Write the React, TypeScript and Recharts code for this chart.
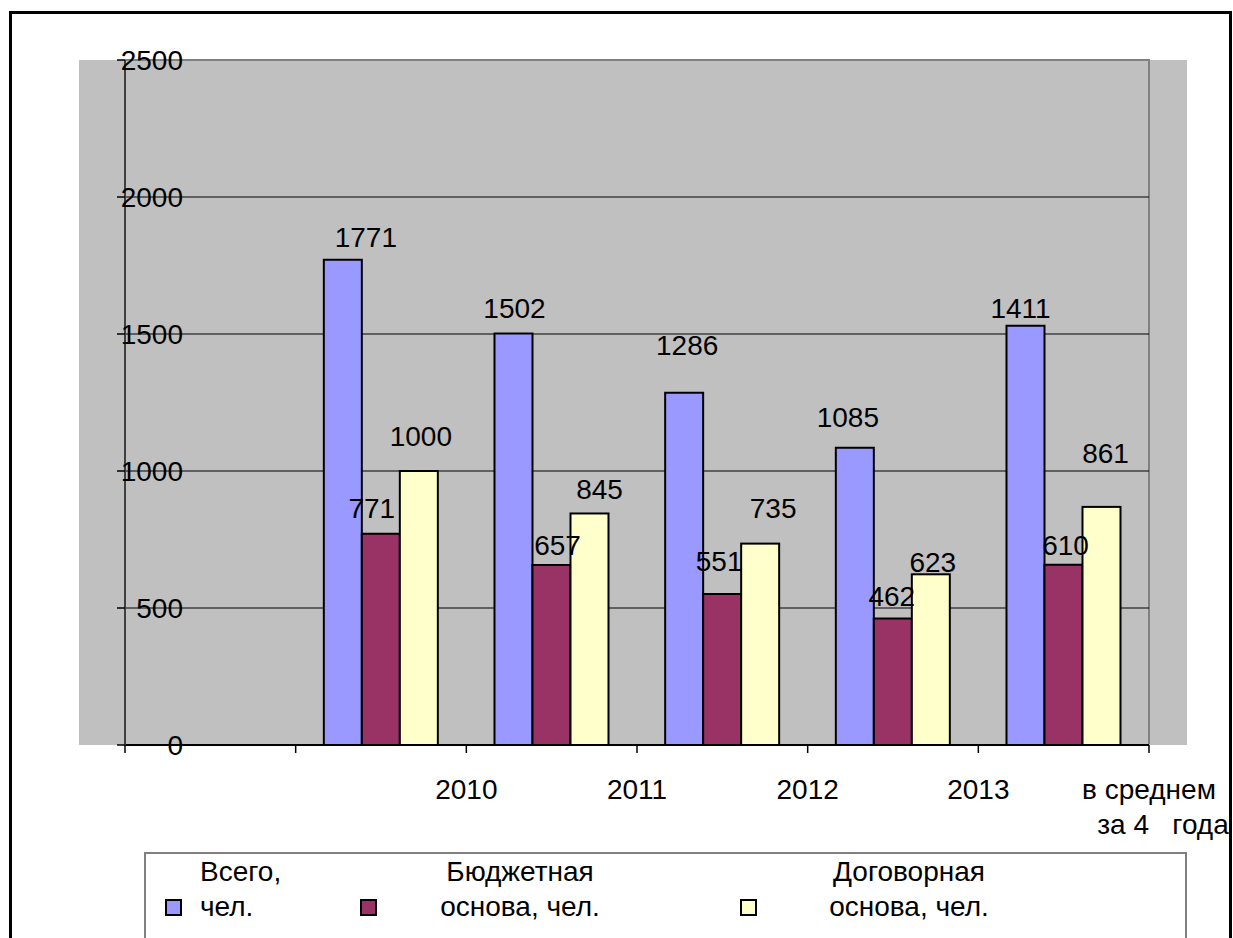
import { Bar, BarChart, CartesianGrid, XAxis, YAxis } from "recharts";

// categories: first slot is empty in the original Excel chart
const categories = ["", "2010", "2011", "2012", "2013", "в среднем\nза 4   года"];
// bar heights as drawn
const totalValues = [null, 1771, 1502, 1286, 1085, 1530];
const budgetValues = [null, 771, 657, 551, 462, 658];
const contractValues = [null, 1000, 845, 735, 623, 869];
// data label texts as printed on the chart
const totalLabels = ["", "1771", "1502", "1286", "1085", "1411"];
const budgetLabels = ["", "771", "657", "551", "462", "610"];
const contractLabels = ["", "1000", "845", "735", "623", "861"];
const yTicks = [0, 500, 1000, 1500, 2000, 2500];
const seriesLegend = [
  ["Всего,", "чел."],
  ["Бюджетная", "основа, чел."],
  ["Договорная", "основа, чел."],
];

const FONT = "'Liberation Sans', Arial, sans-serif";
const COLORS = ["#9999FF", "#993366", "#FFFFCC"];
const W = 1233;
const H = 938;
const PLOT = { left: 125, top: 60, right: 1149, bottom: 745 };
const BAND = (PLOT.right - PLOT.left) / categories.length;

// hand-placed label nudges [dx, lift above bar top] per series, like the original
const labelNudge = [
  [[0, 0], [23, 13], [1, 15], [3, 38], [-7, 21], [-5, 8]],
  [[0, 0], [-9, 16], [6, 10], [-3, 23], [-1, 12], [2, 10]],
  [[0, 0], [2, 25], [10, 14], [13, 26], [2, 2], [4, 44]],
];

const data = categories.map((cat, i) => ({
  cat,
  idx: i,
  total: totalValues[i],
  budget: budgetValues[i],
  contract: contractValues[i],
}));

function CategoryTick(props: any) {
  const { x, y, payload } = props;
  const half = BAND / 2;
  const isLast = payload.value === categories[categories.length - 1];
  const lines = String(payload.value).split("\n");
  return (
    <g>
      <line x1={x - half} x2={x - half} y1={y - 8} y2={y} stroke="#000" strokeWidth={1.5} />
      {isLast && <line x1={x + half} x2={x + half} y1={y - 8} y2={y} stroke="#000" strokeWidth={1.5} />}
      <text
        x={x + half}
        y={y + 46}
        textAnchor="middle"
        fontSize={28}
        fontFamily={FONT}
        fill="#000"
        style={{ whiteSpace: "pre" }}
      >
        {lines.map((l, k) => (
          <tspan key={k} x={x + half + (k ? 14 : 0)} dy={k ? 35 : 0}>
            {l}
          </tspan>
        ))}
      </text>
    </g>
  );
}

function ValueTick(props: any) {
  const { x, y, payload } = props;
  return (
    <text x={x + 66} y={y + 10} textAnchor="end" fontSize={28} fontFamily={FONT} fill="#000">
      {payload.value}
    </text>
  );
}

// last series draws its rect, then every label of the group so labels sit on top of neighbours
function ContractShape(props: any) {
  const { x, y, width, height, payload } = props;
  if (!payload || !payload.contract) return <g />;
  const bottom = y + height;
  const k = height / payload.contract;
  const i = payload.idx;
  const vals = [payload.total, payload.budget, payload.contract];
  const texts = [totalLabels[i], budgetLabels[i], contractLabels[i]];
  return (
    <g>
      <rect x={x} y={y} width={width} height={height} fill={COLORS[2]} stroke="#000" strokeWidth={2} />
      {vals.map((v, s) => {
        const [dx, lift] = labelNudge[s][i];
        const cx = x + (s - 2) * width + width / 2 + dx;
        const top = bottom - v * k;
        return (
          <text key={s} x={cx} y={top - lift} textAnchor="middle" fontSize={28} fontFamily={FONT} fill="#000">
            {texts[s]}
          </text>
        );
      })}
    </g>
  );
}

function LegendBox() {
  const markers = [166, 361, 741];
  const textX = [200, 520, 909];
  const anchors = ["start", "middle", "middle"];
  return (
    <g fontFamily={FONT} fontSize={28} fill="#000">
      <rect x={145} y={853} width={1041} height={200} fill="#fff" stroke="#808080" strokeWidth={2} />
      {seriesLegend.map((lines, s) => (
        <g key={s}>
          <rect x={markers[s]} y={900} width={15} height={15} fill={COLORS[s]} stroke="#000" strokeWidth={2} />
          <text x={textX[s]} y={881} textAnchor={anchors[s] as any}>
            {lines[0]}
          </text>
          <text x={textX[s]} y={916} textAnchor={anchors[s] as any}>
            {lines[1]}
          </text>
        </g>
      ))}
    </g>
  );
}

export default function App() {
  return (
    <div
      style={{
        position: "fixed",
        left: 0,
        top: 0,
        width: W,
        height: H,
        background: "#fff",
        overflow: "hidden",
      }}
    >
      <div style={{ position: "absolute", left: 79, top: 60, width: 1108, height: 685, background: "#C0C0C0" }} />
      <div
        style={{
          position: "absolute",
          left: PLOT.left,
          top: PLOT.top - 1,
          width: PLOT.right - PLOT.left + 1,
          height: PLOT.bottom - PLOT.top,
          borderTop: "2px solid #808080",
          borderRight: "2px solid #808080",
          boxSizing: "border-box",
        }}
      />
      <div style={{ position: "absolute", left: 0, top: 0 }}>
        <BarChart
          width={W}
          height={H}
          data={data}
          margin={{ top: PLOT.top, right: W - PLOT.right, bottom: 83, left: 0 }}
          barGap={0}
          barCategoryGap="16.5%"
        >
          <CartesianGrid
            vertical={false}
            horizontalValues={[500, 1000, 1500, 2000]}
            stroke="#000"
            strokeWidth={1}
          />
          <XAxis
            dataKey="cat"
            height={H - PLOT.bottom - 83}
            interval={0}
            tickSize={8}
            tickMargin={0}
            tickLine={false}
            axisLine={{ stroke: "#000", strokeWidth: 2 }}
            tick={CategoryTick}
          />
          <YAxis
            width={PLOT.left}
            domain={[0, 2500]}
            ticks={yTicks}
            interval={0}
            tickSize={8}
            tickMargin={0}
            tickLine={{ stroke: "#000", strokeWidth: 1.5 }}
            axisLine={{ stroke: "#404040", strokeWidth: 2 }}
            tick={ValueTick}
          />
          <Bar dataKey="total" fill={COLORS[0]} stroke="#000" strokeWidth={2} isAnimationActive={false} />
          <Bar dataKey="budget" fill={COLORS[1]} stroke="#000" strokeWidth={2} isAnimationActive={false} />
          <Bar dataKey="contract" fill={COLORS[2]} shape={ContractShape} isAnimationActive={false} />
        </BarChart>
      </div>
      <svg width={W} height={H} style={{ position: "absolute", left: 0, top: 0, pointerEvents: "none" }}>
        <LegendBox />
        <rect x={10.5} y={12.5} width={1220} height={1000} fill="none" stroke="#000" strokeWidth={3} />
      </svg>
    </div>
  );
}
